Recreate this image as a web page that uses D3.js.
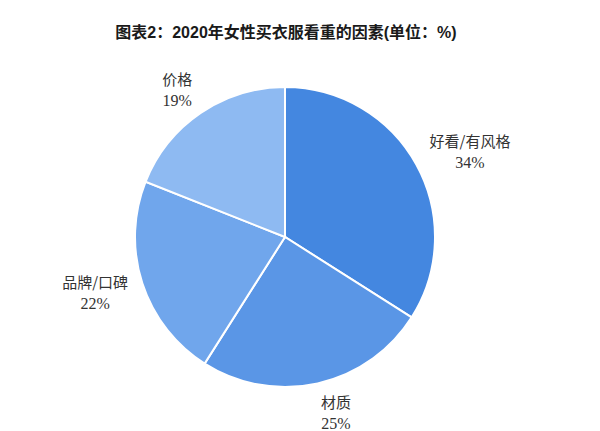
<!DOCTYPE html>
<html><head><meta charset="utf-8">
<script src="https://cdn.jsdelivr.net/npm/d3@7"></script>
<style>body{margin:0;background:#fff;}</style>
</head><body>
<svg id="chart" width="600" height="431"></svg>
<script>
const title = "图表2：2020年女性买衣服看重的因素(单位：%)";
const categories = ["好看/有风格", "材质", "品牌/口碑", "价格"];
const values = [34, 25, 22, 19];
const colors = ["#4487E0", "#5A96E6", "#70A6EC", "#8EBAF2"];

const svg = d3.select("#chart");
const cx = 285, cy = 237, R = 150;

svg.append("text").attr("x", 286).attr("y", 38)
  .attr("text-anchor", "middle")
  .attr("font-family", "Arial, 'Liberation Sans', 'Noto Sans CJK SC', sans-serif")
  .attr("font-weight", "bold").attr("font-size", 16).attr("fill", "#1a1a1a")
  .text(title);

const data = categories.map((c, i) => ({cat: c, val: values[i], color: colors[i]}));
const pie = d3.pie().value(d => d.val).sort(null);
const arcs = pie(data);
const arc = d3.arc().innerRadius(0).outerRadius(R);
const g = svg.append("g").attr("transform", `translate(${cx},${cy})`);

g.selectAll("path").data(arcs).join("path")
  .attr("d", arc).attr("fill", d => d.data.color)
  .attr("stroke", "#fff").attr("stroke-width", 2);

const labelR = R + 15;
arcs.forEach(a => {
  const mid = (a.startAngle + a.endAngle) / 2;
  const s = Math.sin(mid), c = Math.cos(mid);
  const px = s * labelR, py = -c * labelR;
  const right = s >= 0;
  const yc = py - c * 14;
  const t = g.append("g").attr("transform", `translate(${px},${yc})`);
  const l1 = t.append("text").attr("y", -4)
    .attr("font-family", "'Noto Sans CJK SC', sans-serif")
    .attr("font-size", 15).attr("fill", "#333")
    .text(a.data.cat);
  const w = l1.node().getComputedTextLength();
  const xm = right ? w / 2 : -w / 2;
  l1.attr("x", xm).attr("text-anchor", "middle");
  t.append("text").attr("x", xm).attr("y", 17).attr("text-anchor", "middle")
    .attr("font-family", "'Liberation Serif', 'Times New Roman', serif")
    .attr("font-size", 16).attr("fill", "#333")
    .text(a.data.val + "%");
});
</script>
</body></html>
